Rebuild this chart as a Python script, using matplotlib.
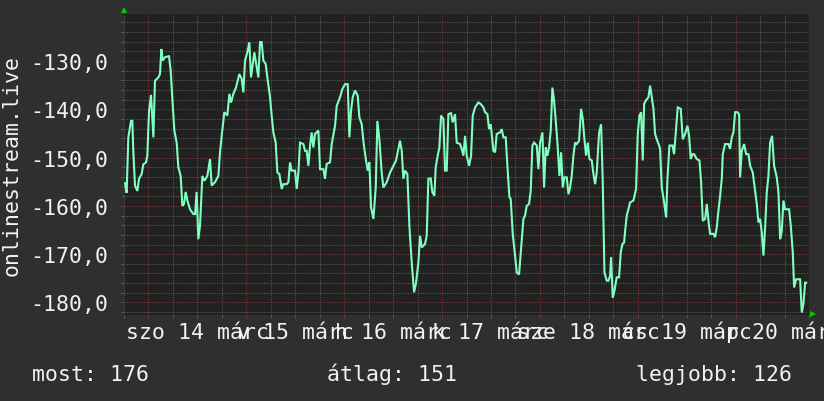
import numpy as np
import matplotlib
matplotlib.use("Agg")
import matplotlib.pyplot as plt
from matplotlib.transforms import blended_transform_factory
from matplotlib.ticker import MultipleLocator, FuncFormatter

# ---- data: hours since 13 Mar 18:00, values (negative rank) ----
hours_1 = [0.25, 0.65, 1.06, 1.72, 2.04, 2.29, 2.70, 3.27, 3.68, 4.33, 4.74, 5.40, 5.72, 6.13, 6.62,
           7.20, 7.60, 8.42, 8.83, 9.16, 9.48, 10.06, 11.04, 11.45, 11.86, 12.35, 12.92, 13.33, 13.90, 14.31,
           14.72, 15.13, 15.54, 16.19, 17.01, 17.42, 17.82, 18.23, 18.64, 19.22, 19.71, 20.44, 21.10, 21.50, 22.32,
           23.14, 23.55, 23.96, 24.61, 25.35, 25.84, 26.25, 26.82, 27.47, 28.29, 28.86, 29.27, 29.68, 30.25, 30.74,
           31.15, 31.97]
values_1 = [-155.3, -157.3, -145.8, -142.4, -142.4, -148.9, -155.8, -156.9, -154.4, -153.4, -151.4, -151.0, -149.6, -140.5, -137.0,
            -145.8, -134.1, -133.4, -132.7, -127.5, -129.9, -129.2, -129.0, -132.0, -137.9, -144.4, -146.9, -152.0, -153.8, -160.0,
            -159.6, -157.1, -158.9, -160.7, -161.7, -161.7, -157.1, -166.9, -164.1, -153.8, -154.8, -153.8, -150.3, -155.8, -155.1,
            -153.8, -148.9, -145.5, -140.6, -141.3, -136.8, -138.6, -136.8, -135.5, -132.7, -133.7, -136.5, -129.9, -128.2, -126.1,
            -133.4, -128.2]

hours_2 = [32.95, 33.36, 33.77, 34.18, 34.75, 35.16, 35.81, 36.22, 36.63, 37.20, 37.61, 38.10, 38.68, 39.08, 39.90,
           40.31, 40.72, 41.13, 41.95, 42.36, 42.77, 43.17, 43.99, 44.40, 44.81, 45.22, 45.63, 46.03, 46.44, 46.85,
           47.67, 48.08, 48.90, 49.30, 49.71, 50.53, 50.94, 51.76, 52.17, 52.98, 53.56, 54.21, 54.87, 55.27, 55.68,
           56.09, 56.66, 57.32, 57.73, 58.30, 58.79, 59.36, 59.77, 60.18, 60.59, 61.17, 61.74, 62.14, 62.63, 63.20,
           63.61, 64.43]
values_2 = [-133.4, -126.1, -126.1, -129.9, -130.6, -133.4, -137.5, -141.3, -144.8, -146.9, -153.1, -153.4, -156.5, -155.5, -155.5,
            -155.1, -151.0, -152.7, -152.7, -156.5, -153.1, -146.9, -147.2, -148.6, -148.6, -151.7, -147.5, -144.8, -147.9, -145.1,
            -144.4, -152.4, -152.4, -154.4, -151.3, -151.0, -147.2, -143.4, -139.3, -137.5, -135.8, -134.8, -134.8, -145.8, -140.3,
            -137.5, -136.1, -137.2, -141.7, -143.1, -147.2, -150.6, -152.7, -151.0, -160.3, -162.7, -156.2, -142.4, -146.2, -153.1,
            -156.2, -155.1]

hours_3 = [65.25, 66.07, 66.72, 67.29, 67.70, 68.11, 68.52, 68.93, 69.50, 69.99, 70.56, 71.14, 71.63, 72.20, 72.61,
           73.02, 73.83, 74.24, 74.65, 75.22, 75.63, 76.12, 76.45, 76.94, 77.35, 77.76, 78.33, 78.74, 79.15, 79.56,
           80.21, 80.62, 81.19, 81.60, 82.42, 82.83, 83.24, 83.65, 84.05, 84.63, 85.12, 85.53, 86.10, 86.92, 87.49,
           88.14, 88.55, 89.13, 89.53, 89.94, 90.60, 91.01, 91.41, 92.23, 92.64, 93.05, 93.62, 94.03, 94.52, 94.85,
           95.34, 95.91, 96.32, 96.89, 97.38, 97.96]
values_3 = [-153.1, -151.7, -150.6, -148.2, -146.5, -148.6, -154.4, -152.7, -153.4, -164.1, -171.7, -177.9, -175.9, -171.7, -166.2,
            -168.6, -167.9, -166.2, -154.4, -154.3, -157.2, -157.9, -152.0, -149.6, -147.9, -141.3, -142.0, -152.7, -152.7, -141.0,
            -140.8, -142.7, -141.0, -146.9, -147.2, -148.2, -149.6, -145.5, -149.6, -151.7, -149.6, -141.3, -139.6, -138.6, -138.9,
            -139.6, -140.6, -141.0, -144.1, -143.1, -148.6, -148.9, -145.1, -144.8, -144.1, -145.8, -145.8, -151.7, -158.2, -158.6,
            -165.8, -170.3, -173.8, -174.2, -168.9, -162.7]

hours_4 = [98.36, 98.77, 99.35, 99.75, 100.16, 100.57, 101.23, 101.64, 102.04, 102.62, 103.03, 103.43, 103.84, 104.25, 104.66,
           105.07, 105.48, 105.89, 106.30, 106.79, 107.20, 107.61, 108.01, 108.59, 109.00, 109.40, 109.81, 110.22, 110.63, 111.04,
           111.61, 112.10, 112.51, 112.92, 113.33, 113.74, 114.15, 114.72, 115.13, 115.54, 115.94, 116.52, 117.01, 117.42, 117.83,
           118.40, 118.81, 119.22, 119.46, 119.87, 120.28, 120.85, 121.42, 121.83, 122.24, 122.65, 122.90, 123.30, 123.71, 124.12,
           124.94, 125.59, 126.00, 126.41, 126.82, 127.23, 127.56, 127.97, 128.62, 129.03, 129.44, 129.85, 130.25, 130.66, 131.24]
values_4 = [-162.0, -160.0, -159.6, -156.9, -147.5, -146.9, -147.5, -152.4, -146.9, -144.8, -156.2, -147.9, -149.6, -147.9, -144.4,
            -135.5, -138.2, -142.4, -146.9, -153.8, -148.9, -156.2, -154.1, -154.1, -157.6, -156.2, -153.8, -149.6, -146.9, -147.2,
            -146.5, -139.9, -142.0, -146.2, -149.6, -146.9, -150.3, -150.6, -153.4, -155.5, -153.1, -144.8, -143.1, -155.1, -173.8,
            -175.5, -175.5, -174.5, -170.7, -179.0, -177.6, -174.8, -174.8, -169.6, -167.9, -167.6, -165.2, -162.0, -160.7, -159.3,
            -158.9, -156.5, -145.1, -141.3, -140.6, -150.6, -138.9, -138.2, -137.5, -135.1, -137.5, -139.9, -145.1, -146.2, -147.5]

hours_5 = [131.48, 131.89, 132.47, 132.96, 133.28, 133.77, 134.51, 134.91, 135.32, 135.81, 136.55, 137.04, 137.61, 138.18, 138.59,
           139.00, 139.41, 139.82, 140.47, 141.13, 141.54, 141.95, 142.52, 142.93, 143.34, 143.74, 144.56, 144.97, 145.38, 145.79,
           146.20, 146.61, 146.85, 147.42, 148.24, 148.65, 149.06, 149.47, 149.88, 150.45, 150.86, 151.10, 151.51, 152.08, 152.58,
           153.15, 153.56, 154.21, 154.78, 155.19, 155.60, 156.01, 156.42, 156.83, 157.24, 157.64, 158.05, 158.46, 158.95, 159.44,
           160.10, 160.51, 160.92, 161.32, 161.73, 162.14, 163.12, 163.53, 164.02, 164.35, 164.84, 165.82, 166.23, 166.64, 167.05,
           167.30]
values_5 = [-148.2, -156.2, -159.3, -162.4, -154.4, -147.5, -147.5, -149.3, -144.8, -139.6, -139.9, -146.2, -145.1, -143.4, -145.5,
            -150.3, -149.3, -149.3, -150.3, -150.6, -155.1, -163.1, -162.7, -159.6, -163.1, -165.8, -165.8, -166.5, -164.4, -161.0,
            -157.9, -154.4, -149.3, -147.2, -147.2, -148.2, -145.8, -144.8, -140.6, -140.6, -141.0, -154.1, -148.6, -147.2, -149.3,
            -149.3, -151.7, -153.1, -156.9, -159.6, -163.4, -162.7, -165.5, -170.3, -164.4, -157.2, -153.8, -146.9, -145.5, -151.7,
            -154.1, -157.2, -166.9, -165.2, -158.9, -160.7, -160.7, -164.1, -169.6, -176.9, -175.2, -175.2, -182.1, -180.3, -175.9,
            -175.9]

day_labels = ["szo 14 márc", "v 15 márc", "h 16 márc", "k 17 márc", "sze 18 márc", "cs 19 márc", "p 20 márc"]
y_title = "onlinestream.live"
legend_texts = ["most: 176", "átlag: 151", "legjobb: 126"]

hours = np.array(hours_1 + hours_2 + hours_3 + hours_4 + hours_5)
values = np.array(values_1 + values_2 + values_3 + values_4 + values_5)
assert len(hours) == len(values)

# ---- styling ----
FIG_BG = "#2f2f2f"
AX_BG = "#212121"
MINOR_C = "#575757"
MAJOR_C = "#7a3434"
LINE_C = "#80ffc0"
TXT_C = "#f2f2f2"
FONT = "DejaVu Sans Mono"
FS = 15.5

W, H = 824, 402
fig = plt.figure(figsize=(W / 100, H / 100), dpi=100, facecolor=FIG_BG)
L, R, B, T = 124, 809, 316, 14.7
ax = fig.add_axes([L / W, 1 - B / H, (R - L) / W, (B - T) / H], facecolor=AX_BG)

ax.plot(hours, values, color=LINE_C, lw=1.5, solid_joinstyle="miter", zorder=3)

ax.set_xlim(0, 168)
ax.set_ylim(-182.6, -120.2)

ax.xaxis.set_major_locator(MultipleLocator(24))
ax.set_xticks(np.arange(6, 168, 24))
ax.xaxis.set_minor_locator(MultipleLocator(6))
ax.yaxis.set_major_locator(MultipleLocator(10))
ax.yaxis.set_minor_locator(MultipleLocator(2))
ax.set_xticklabels([])
ax.yaxis.set_major_formatter(FuncFormatter(lambda v, p: f"{v:.1f}".replace(".", ",")))

dash = (0, (1.0, 1.2))
ax.grid(which="minor", color=MINOR_C, lw=0.8, linestyle=dash, zorder=1)
ax.grid(which="major", color=MAJOR_C, lw=0.8, linestyle=dash, zorder=2)
ax.set_axisbelow(True)

ax.tick_params(which="major", axis="both", color=MAJOR_C, length=2.2, width=0.8, direction="out")
ax.tick_params(which="minor", axis="both", color=MINOR_C, length=2.2, width=0.8, direction="out")
ax.tick_params(axis="y", which="major", pad=9, labelsize=FS, labelcolor=TXT_C)
for lab in ax.get_yticklabels():
    lab.set_fontfamily(FONT)
for s in ax.spines.values():
    s.set_visible(False)

# day labels centered at noon
tr = blended_transform_factory(ax.transData, ax.transAxes)
for i, lab in enumerate(day_labels):
    ax.text(18 + 24 * i, -22.7 / (B - T), lab, transform=tr, ha="center", va="baseline",
            fontsize=FS, family=FONT, color=TXT_C, clip_on=False)

fig.text(12 / W, 1 - 165 / H, y_title, rotation=90, ha="center", va="center",
         fontsize=FS, family=FONT, color=TXT_C)

for x, t in zip([32, 327, 636], legend_texts):
    fig.text(x / W, 1 - 381 / H, t, ha="left", va="baseline", fontsize=FS, family=FONT, color=TXT_C)

# axis arrows
fig.add_artist(plt.Line2D([124.5 / W], [1 - 10.5 / H], marker="^", markersize=5, color="#00cc00",
                          markeredgewidth=0, linestyle="none"))
fig.add_artist(plt.Line2D([813 / W], [1 - 315 / H], marker=">", markersize=5, color="#00cc00",
                          markeredgewidth=0, linestyle="none"))

fig.savefig("out.png", dpi=100, facecolor=FIG_BG)
